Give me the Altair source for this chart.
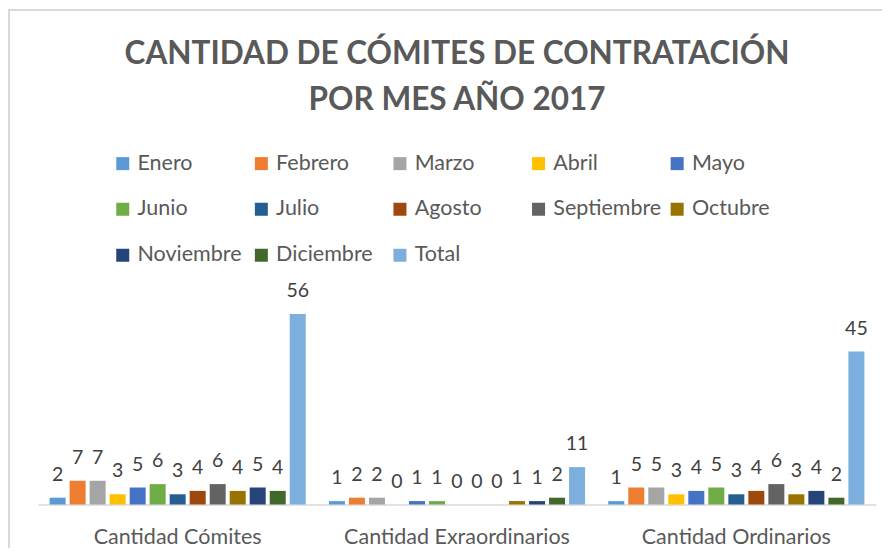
import altair as alt
import pandas as pd

categorias = ["Cantidad Cómites", "Cantidad Exraordinarios", "Cantidad Ordinarios"]
meses = ["Enero", "Febrero", "Marzo", "Abril", "Mayo", "Junio", "Julio", "Agosto",
         "Septiembre", "Octubre", "Noviembre", "Diciembre", "Total"]
comites = [2, 7, 7, 3, 5, 6, 3, 4, 6, 4, 5, 4, 56]
extraordinarios = [1, 2, 2, 0, 1, 1, 0, 0, 0, 1, 1, 2, 11]
ordinarios = [1, 5, 5, 3, 4, 5, 3, 4, 6, 3, 4, 2, 45]
colores = ["#5B9BD5", "#ED7D31", "#A5A5A5", "#FFC000", "#4472C4", "#70AD47", "#255E91",
           "#9E480E", "#636363", "#997300", "#264478", "#43682B", "#7CAFDD"]

rows = []
for cat, vals in zip(categorias, [comites, extraordinarios, ordinarios]):
    for m, v in zip(meses, vals):
        rows.append({"categoria": cat, "mes": m, "valor": v})
df = pd.DataFrame(rows)

FONT = "Lato"

base = alt.Chart(df).encode(
    x=alt.X("categoria:N", sort=categorias,
            scale=alt.Scale(paddingInner=0, paddingOuter=0),
            axis=alt.Axis(title=None, labelAngle=0, ticks=False, domainColor="#D9D9D9",
                          domainWidth=1.5, labelFont=FONT, labelFontSize=21.5,
                          labelColor="#595959", labelPadding=22, grid=False,
                          labelLimit=400)),
    xOffset=alt.XOffset("mes:N", sort=meses,
                        scale=alt.Scale(paddingInner=0.2, paddingOuter=0.58)),
    y=alt.Y("valor:Q", scale=alt.Scale(domain=[0, 60], nice=False), axis=None),
)

bars = base.mark_bar().encode(
    color=alt.Color("mes:N", sort=meses,
                    scale=alt.Scale(domain=meses, range=colores),
                    legend=alt.Legend(title=None, orient="none", legendX=74, legendY=-148,
                                      direction="horizontal", columns=5, symbolType="square",
                                      symbolSize=169, symbolStrokeWidth=0, labelFontSize=21.5,
                                      labelFont=FONT, labelColor="#595959", labelOffset=4,
                                      columnPadding=4.6, rowPadding=23, gridAlign="all",
                                      labelLimit=300, padding=0))
)

labels = base.mark_text(dy=-17, baseline="alphabetic", fontSize=19.5, font=FONT,
                        color="#404040").encode(text="valor:Q")

borde = alt.Chart(alt.Data(values=[{"k": 1}]))
top_border = borde.mark_rule(color="#D9D9D9", strokeWidth=2).encode(
    x=alt.value(-30), x2=alt.value(846), y=alt.value(-290.5))
left_border = borde.mark_rule(color="#D9D9D9", strokeWidth=2).encode(
    x=alt.value(-29), y=alt.value(-290.5), y2=alt.value(247.5))

chart = alt.layer(bars, labels, top_border, left_border).properties(
    width=838, height=204,
    title=alt.Title(["CANTIDAD DE CÓMITES DE CONTRATACIÓN", "POR MES AÑO 2017"],
                    font=FONT, fontSize=31.5, fontWeight="bold", color="#595959",
                    anchor="middle", lineHeight=46, offset=-107),
    autosize=alt.AutoSizeParams(type="none"),
    padding={"left": 30, "top": 292.5, "right": 6, "bottom": 43.5},
    background="white",
).configure_view(stroke=None)

chart.save("out.html", embed_options={"renderer": "svg", "actions": False})
